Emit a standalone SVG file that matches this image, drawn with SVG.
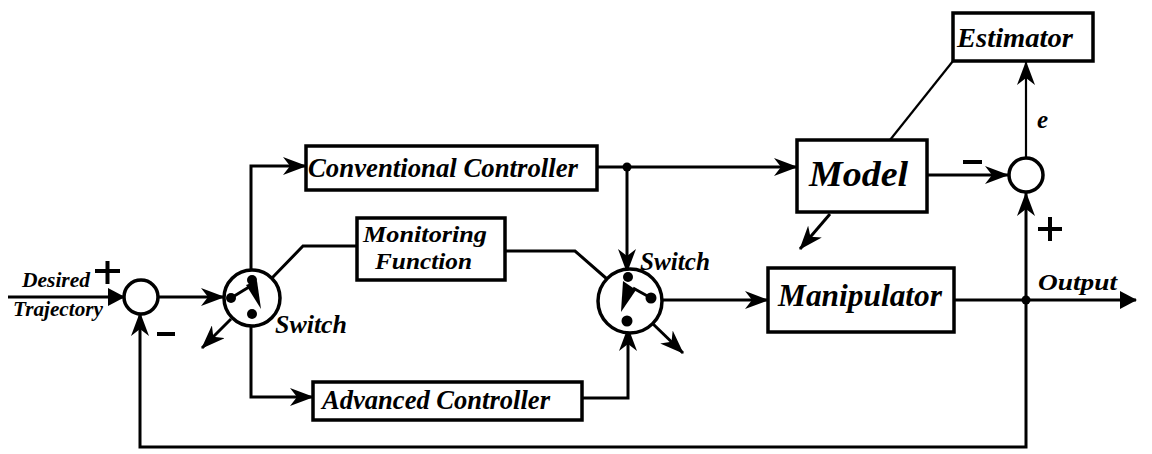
<svg xmlns="http://www.w3.org/2000/svg" width="1152" height="454" viewBox="0 0 1152 454">
  <style>
    .box { fill: #fff; stroke: #000; stroke-width: 3.5; }
    .ln { fill: none; stroke: #000; stroke-width: 3; stroke-linejoin: miter; }
    .thin { fill: none; stroke: #000; stroke-width: 2.2; }
    .arr { marker-end: url(#ah); }
    .circ { fill: #fff; stroke: #000; stroke-width: 3.5; }
    .dot { fill: #000; }
    .lbl { font-family: "Liberation Serif", "Times New Roman", serif; font-weight: bold; font-style: italic; fill: #000; }
    .sign { stroke: #000; stroke-width: 4; fill: none; }
  </style>
  <defs>
    <marker id="ah" viewBox="0 0 24 18" refX="23" refY="9" markerWidth="24" markerHeight="18" markerUnits="userSpaceOnUse" orient="auto">
      <path d="M0,0 L24,9 L0,18 L7,9 Z" fill="#000"/>
    </marker>
    <marker id="ahs" viewBox="0 0 17 18" refX="16" refY="9" markerWidth="17" markerHeight="18" markerUnits="userSpaceOnUse" orient="auto">
      <path d="M0,0 L17,9 L0,18 Z" fill="#000"/>
    </marker>
  </defs>

  <!-- connectors -->
  <g id="connectors">
    <!-- reference input into summing junction -->
    <line class="ln" x1="8" y1="297" x2="124" y2="297" stroke-width="4" marker-end="url(#ahs)"/>
    <!-- summing junction to first switch -->
    <line class="ln arr" x1="158" y1="297" x2="224" y2="297"/>
    <!-- switch 1 to conventional controller -->
    <polyline class="ln arr" points="251,270 251,166 306,166"/>
    <!-- switch 1 to monitoring function -->
    <polyline class="ln" points="272,278 303,246 357,246"/>
    <!-- switch 1 to advanced controller -->
    <polyline class="ln arr" points="251,326 251,397 313,397"/>
    <!-- monitoring function to switch 2 -->
    <polyline class="ln" points="505,251 575,251 607,279"/>
    <!-- conventional controller output, branching to model and switch 2 -->
    <line class="ln arr" x1="597" y1="167" x2="797" y2="167"/>
    <line class="ln arr" x1="627" y1="167" x2="627" y2="272"/>
    <!-- advanced controller to switch 2 -->
    <polyline class="ln arr" points="582,398 628,398 628,328"/>
    <!-- switch 2 to manipulator -->
    <line class="ln arr" x1="662" y1="300" x2="768" y2="300"/>
    <!-- manipulator output -->
    <line class="ln" x1="954" y1="300" x2="1136" y2="300" marker-end="url(#ahs)"/>
    <!-- output feedback loop -->
    <polyline class="ln arr" points="1026,300 1026,447 140,447 140,313"/>
    <!-- output to error junction -->
    <line class="ln arr" x1="1026" y1="300" x2="1026" y2="193"/>
    <!-- model to error junction -->
    <line class="ln arr" x1="927" y1="175" x2="1008" y2="175"/>
    <!-- error to estimator -->
    <line class="thin" x1="1026" y1="157" x2="1026" y2="62" marker-end="url(#ah)"/>
    <!-- estimator adjusts model -->
    <line class="thin" x1="953" y1="61" x2="890" y2="140"/>
    <!-- adaptation arrows (model, switches) -->
    <line class="ln arr" x1="830" y1="214" x2="800" y2="249"/>
    <line class="ln arr" x1="231" y1="319" x2="202" y2="348"/>
    <line class="ln arr" x1="652" y1="323" x2="683" y2="353"/>
    <!-- junction dots -->
    <circle class="dot" cx="627" cy="167" r="4.5"/>
    <circle class="dot" cx="1026" cy="300" r="4.5"/>
  </g>

  <!-- summing junction (reference - output) -->
  <g id="sum-input">
    <circle class="circ" cx="141" cy="297" r="17"/>
    <path class="sign" d="M95,271 H120 M107.5,261 V284"/>
    <path class="sign" d="M157,334 H175"/>
  </g>

  <!-- error junction (output - model) -->
  <g id="sum-error">
    <circle class="circ" cx="1026" cy="175" r="17"/>
    <path class="sign" d="M963,162 H982"/>
    <path class="sign" d="M1038,229 H1062 M1050,217 V241"/>
    <text class="lbl" x="1037" y="128" font-size="25">e</text>
  </g>

  <!-- switch 1 -->
  <g id="switch-1">
    <circle class="circ" cx="252" cy="298" r="28"/>
    <circle class="dot" cx="231" cy="298" r="5"/>
    <circle class="dot" cx="252" cy="280" r="5"/>
    <circle class="dot" cx="252" cy="314" r="5"/>
    <line class="ln" x1="231" y1="298" x2="249" y2="287"/>
    <polygon class="dot" points="246,285 257,281 261,309"/>
    <text class="lbl" x="275" y="333" font-size="25" textLength="72" lengthAdjust="spacingAndGlyphs">Switch</text>
  </g>

  <!-- switch 2 -->
  <g id="switch-2">
    <circle class="circ" cx="630" cy="301" r="32"/>
    <circle class="dot" cx="628" cy="277" r="5"/>
    <circle class="dot" cx="651" cy="298" r="5.5"/>
    <circle class="dot" cx="627" cy="321" r="5.5"/>
    <line class="ln" x1="651" y1="298" x2="633" y2="288"/>
    <polygon class="dot" points="623,281 636,290 621,312"/>
    <text class="lbl" x="640" y="270" font-size="25" textLength="70" lengthAdjust="spacingAndGlyphs">Switch</text>
  </g>

  <g id="conventional-controller">
    <rect class="box" x="306" y="146" width="291" height="44"/>
    <text class="lbl" x="308" y="177" font-size="28" textLength="270" lengthAdjust="spacingAndGlyphs">Conventional Controller</text>
  </g>

  <g id="monitoring-function">
    <rect class="box" x="357" y="218" width="148" height="62"/>
    <text class="lbl" x="363" y="242" font-size="24" textLength="124" lengthAdjust="spacingAndGlyphs">Monitoring</text>
    <text class="lbl" x="375" y="269" font-size="24" textLength="97" lengthAdjust="spacingAndGlyphs">Function</text>
  </g>

  <g id="advanced-controller">
    <rect class="box" x="313" y="382" width="269" height="38"/>
    <text class="lbl" x="322" y="409" font-size="27" textLength="228" lengthAdjust="spacingAndGlyphs">Advanced Controller</text>
  </g>

  <g id="model">
    <rect class="box" x="797" y="140" width="130" height="72"/>
    <text class="lbl" x="809" y="186" font-size="35" textLength="99" lengthAdjust="spacingAndGlyphs">Model</text>
  </g>

  <g id="estimator">
    <rect class="box" x="953" y="13" width="140" height="48"/>
    <text class="lbl" x="957" y="47" font-size="28" textLength="116" lengthAdjust="spacingAndGlyphs">Estimator</text>
  </g>

  <g id="manipulator">
    <rect class="box" x="768" y="268" width="186" height="64"/>
    <text class="lbl" x="778" y="306" font-size="32" textLength="164" lengthAdjust="spacingAndGlyphs">Manipulator</text>
  </g>

  <g id="io-labels">
    <text class="lbl" x="22" y="287" font-size="20" textLength="68" lengthAdjust="spacingAndGlyphs">Desired</text>
    <text class="lbl" x="13" y="316" font-size="20" textLength="90" lengthAdjust="spacingAndGlyphs">Trajectory</text>
    <text class="lbl" x="1038" y="290" font-size="23" textLength="79" lengthAdjust="spacingAndGlyphs">Output</text>
  </g>
</svg>
